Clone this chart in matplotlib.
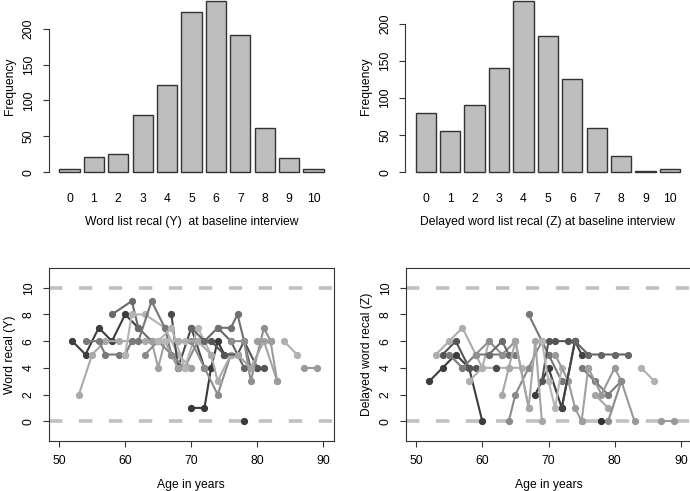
import matplotlib
matplotlib.use('Agg')
import matplotlib.pyplot as plt

plt.rcParams['font.family'] = ['Liberation Sans', 'DejaVu Sans']
plt.rcParams['font.size'] = 8.7

# Histogram counts at baseline
scores = list(range(11))
freq_y = [5, 21, 26, 80, 121, 224, 239, 192, 61, 20, 5]
freq_z = [80, 55, 90, 141, 231, 184, 125, 60, 22, 2, 4]

# Spaghetti trajectories: (ages, scores, grey shade)
traj_y = [
    ([52, 54, 56, 58, 60, 62], [6, 5, 7, 6, 8, 7], '#3d3d3d'),
    ([58, 61, 62, 64], [8, 9, 7, 6], '#6a6a6a'),
    ([53, 55, 57, 59, 61, 63, 65], [2, 5, 6, 6, 6, 6, 6], '#a9a9a9'),
    ([54, 56, 57, 59, 60, 61], [6, 6, 5, 5, 5, 6], '#7a7a7a'),
    ([60, 61, 63, 66, 68, 70], [5, 8, 8, 7, 5, 4], '#b3b3b3'),
    ([62, 64, 66, 67, 68], [6, 9, 7, 5, 4], '#777777'),
    ([67, 68, 70, 72], [8, 4, 7, 4], '#4a4a4a'),
    ([64, 65, 66, 68, 70], [6, 4, 6, 4, 4], '#a0a0a0'),
    ([63, 65, 67, 69, 71], [5, 6, 5, 4, 6], '#8a8a8a'),
    ([65, 67, 69, 71, 73], [6, 7, 4, 7, 5], '#b5b5b5'),
    ([66, 68, 69, 71], [6, 6, 6, 6], '#b8b8b8'),
    ([70, 72, 73, 74, 75], [1, 1, 4, 6, 5], '#3a3a3a'),
    ([70, 72, 74, 76], [6, 4, 2, 5], '#8c8c8c'),
    ([68, 71, 73, 74, 76], [6, 6, 5, 3, 5], '#ababab'),
    ([70, 72, 74, 76, 78], [7, 6, 7, 6, 4], '#666666'),
    ([74, 76, 77, 79, 80], [7, 7, 8, 4, 4], '#707070'),
    ([73, 75, 77, 78, 80, 81], [6, 5, 5, 6, 4, 4], '#555555'),
    ([76, 78, 79, 81, 82], [6, 6, 3, 7, 6], '#8f8f8f'),
    ([77, 79, 81, 83], [5, 4, 6, 3], '#a5a5a5'),
    ([80, 82, 83], [6, 6, 3], '#9c9c9c'),
    ([84, 86], [6, 5], '#b0b0b0'),
    ([87, 89], [4, 4], '#9a9a9a'),
    ([78], [0], '#3a3a3a'),
]

traj_z = [
    ([52, 54, 56, 58, 60], [3, 4, 5, 4, 0], '#3c3c3c'),
    ([54, 56, 58, 59], [5, 6, 4, 4], '#555555'),
    ([53, 55, 57, 60, 61], [5, 6, 7, 4, 6], '#adadad'),
    ([55, 57, 59, 61, 63, 65], [5, 4, 5, 5, 5, 5], '#7a7a7a'),
    ([58, 60, 62, 64, 66], [3, 4, 4, 4, 4], '#b0b0b0'),
    ([59, 61, 63, 65], [5, 6, 5, 6], '#909090'),
    ([61, 63, 64], [5, 6, 5], '#6a6a6a'),
    ([62], [4], '#4a4a4a'),
    ([63, 64, 65, 67], [2, 4, 6, 1], '#a8a8a8'),
    ([64, 65, 67, 69], [0, 2, 4, 6], '#8a8a8a'),
    ([67, 70, 72], [8, 5, 3], '#777777'),
    ([68, 70, 72, 74], [2, 4, 1, 6], '#3c3c3c'),
    ([69, 70, 71, 73], [3, 6, 6, 6], '#555555'),
    ([65, 67, 68, 69], [6, 1, 6, 0], '#a5a5a5'),
    ([69, 70, 71, 72], [6, 3, 1, 4], '#b5b5b5'),
    ([71, 73, 74, 75], [5, 3, 1, 0], '#9a9a9a'),
    ([72, 74, 75], [1, 6, 5], '#444444'),
    ([74, 76, 78, 80, 82], [6, 5, 5, 5, 5], '#666666'),
    ([75, 77, 79, 81], [4, 3, 2, 3], '#7a7a7a'),
    ([76, 78, 80, 81, 83], [4, 2, 4, 3, 0], '#999999'),
    ([77, 79], [2, 1], '#a5a5a5'),
    ([79, 81], [0, 3], '#8c8c8c'),
    ([78], [0], '#333333'),
    ([84, 86], [4, 3], '#b0b0b0'),
    ([87, 89], [0, 0], '#999999'),
    ([75, 76], [0, 4], '#a0a0a0'),
]

W, H = 690, 491
fig = plt.figure(figsize=(W / 100, H / 100), dpi=100)


def px_axes(x0, x1, y_top, y_bot):
    return fig.add_axes([x0 / W, (H - y_bot) / H, (x1 - x0) / W, (y_bot - y_top) / H])


def histogram(ax, counts, xlabel):
    centers = [0.7 + 1.2 * i for i in range(len(counts))]
    ax.bar(centers, counts, width=1.0, color='#bebebe',
           edgecolor='#333333', linewidth=1.0)
    top = max(counts)
    ax.set_xlim(-0.32, 13.72)
    ax.set_ylim(-0.04 * top, 1.04 * top)
    for s in ['top', 'right', 'bottom']:
        ax.spines[s].set_visible(False)
    ax.spines['left'].set_bounds(0, 200)
    ax.spines['left'].set_color('#333333')
    ax.set_yticks([0, 50, 100, 150, 200])
    ax.set_yticklabels(['0', '50', '100', '150', '200'], rotation=90, va='center')
    ax.set_xticks(centers)
    ax.set_xticklabels([str(s) for s in scores])
    ax.tick_params(axis='x', length=0, pad=10)
    ax.tick_params(axis='y', direction='out', length=4, pad=6, color='#333333')
    ax.set_xlabel(xlabel, labelpad=8)
    ax.set_ylabel('Frequency', labelpad=5)


def spaghetti(ax, trajs, ylabel):
    for lim in (0, 10):
        ax.axhline(lim, color='#c0c0c0', linewidth=2.6,
                   linestyle=(0, (3.7, 4.6)), zorder=1)
    for ages, vals, shade in trajs:
        ax.plot(ages, vals, color=shade, linewidth=1.5, marker='o',
                markersize=4.2, zorder=2)
    ax.set_xlim(48.4, 91.6)
    ax.set_ylim(-1.48, 11.48)
    ax.set_xticks([50, 60, 70, 80, 90])
    ax.set_yticks([0, 2, 4, 6, 8, 10])
    ax.set_yticklabels(['0', '2', '4', '6', '8', '10'], rotation=90, va='center')
    ax.tick_params(direction='out', length=4, pad=6, color='#333333')
    for s in ax.spines.values():
        s.set_color('#333333')
    ax.set_xlabel('Age in years', labelpad=9)
    ax.set_ylabel(ylabel, labelpad=5)


ax1 = px_axes(48.7, 334.3, -6, 179)
histogram(ax1, freq_y, 'Word list recal (Y)  at baseline interview')
ax2 = px_axes(405.1, 690.7, -6, 179)
histogram(ax2, freq_z, 'Delayed word list recal (Z) at baseline interview')

ax3 = px_axes(48.5, 334, 268, 441)
spaghetti(ax3, traj_y, 'Word recal (Y)')
ax4 = px_axes(405.5, 691.5, 268, 441)
spaghetti(ax4, traj_z, 'Delayed word recal (Z)')

fig.savefig('out.png', dpi=100)
